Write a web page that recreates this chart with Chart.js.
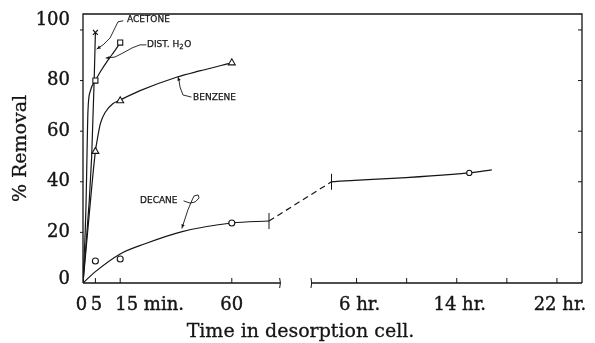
<!DOCTYPE html>
<html>
<head>
<meta charset="utf-8">
<script src="https://cdn.jsdelivr.net/npm/chart.js@4.4.0/dist/chart.umd.min.js"></script>
<style>
  html, body { margin: 0; padding: 0; background: #fff; }
  canvas { display: block; }
</style>
</head>
<body>
<canvas id="removalChart" width="595" height="343"></canvas>
<script>
// axis ticks
const yTicks = [0, 20, 40, 60, 80, 100];
const minuteTicks = [0, 5, 15, 60];
const minuteLabels = ["0", "5", "15 min.", "60"];
const hourTicks = [6, 10, 14, 18, 22];
const hourLabels = ["6 hr.", "", "14 hr.", "", "22 hr."];

// the time axis is broken: minutes up to ~80, then hours from ~2.4 to 24
const MINUTE_END = 79.5;
const HOUR_START = 2.4;
const HOUR_END = 24;
const HOUR_BASE = 80;
const UNITS_PER_HOUR = 5.05;
const Y_MAX = 106.3;

// measured removal (%)
const acetoneMin = [5];
const acetoneVal = [99];
const waterMin = [5, 15];
const waterVal = [80, 95];
const benzeneMin = [5, 15, 60];
const benzeneVal = [52, 72, 87];
const decaneMin = [5, 15, 60];
const decaneVal = [8.7, 9.5, 23.7];
const decaneHr = [15];
const decaneHrVal = [43.5];

// smooth curves through the measurements
const acetoneCurveMin = [0, 3.5, 4.5, 5];
const acetoneCurveVal = [0, 50, 80, 99];
const waterCurveMin = [0, 1.2, 1.6, 2, 3, 5, 7, 10, 13, 15];
const waterCurveVal = [0, 30, 50, 68, 76, 80, 83.5, 88, 92, 95];
const benzeneCurveMin = [0, 2.5, 5, 6, 7, 9, 12, 15, 23, 38, 47, 60];
const benzeneCurveVal = [0, 27, 52, 58, 63, 67.5, 70.8, 72.3, 76, 81.4, 83.8, 87];
const decaneCurveMin = [0, 5, 15, 25, 40, 60, 75];
const decaneCurveVal = [0, 4.5, 11.5, 15.5, 20.3, 23.7, 24.5];
const decaneTailHr = [4, 15, 16.8];
const decaneTailVal = [40, 43.5, 44.7];

const INK = "#151515";

const hourX = (h) => HOUR_BASE + UNITS_PER_HOUR * h;
const minPts = (xs, ys) => xs.map((m, i) => ({ x: m, y: ys[i] }));
const hrPts = (xs, ys) => xs.map((h, i) => ({ x: hourX(h), y: ys[i] }));

const lastMin = decaneCurveMin.length - 1;
const decaneJoin = [
  { x: decaneCurveMin[lastMin], y: decaneCurveVal[lastMin] },
  { x: hourX(decaneTailHr[0]), y: decaneTailVal[0] },
];

// curve labels with leader lines, in chart units (minutes-scale x, %)
const notes = [
  { parts: ["ACETONE"], at: [17.7, 104],
    path: [[16.1, 103.6], [14.1, 103.2], [12.9, 100.8], [10.9, 96.8], [8.1, 94.1], [5.6, 92.5]] },
  { parts: ["DIST. H", "2", "O"], at: [25.8, 94.1],
    path: [[25.4, 94.1], [23, 94.1], [19.8, 92.9], [16.1, 90.9], [12.9, 89.3], [9.3, 88.9]] },
  { parts: ["BENZENE"], at: [44.4, 73.1],
    path: [[43.6, 73.5], [40.3, 74.3], [39.1, 77.5], [38.7, 80.2], [38.3, 81.4]] },
  { parts: ["DECANE"], at: [23, 32.6],
    path: [[40.7, 32.4], [43.1, 31.6], [45.2, 32.0], [46.8, 33.6], [46.4, 34.8], [44.8, 34.4],
           [44.0, 32.8], [42.3, 28.9], [41.1, 25.3], [39.9, 21.7]] },
];

const curve = (data, dash) => ({
  data: data,
  borderColor: INK,
  borderWidth: 1.2,
  borderDash: dash || [],
  pointRadius: 0,
  cubicInterpolationMode: "monotone",
  fill: false,
});

const marks = (data, style, r) => ({
  data: data,
  showLine: false,
  pointStyle: style,
  pointRadius: r,
  pointBackgroundColor: "#fff",
  pointBorderColor: INK,
  pointBorderWidth: 1.1,
});

// filled text with a hairline stroke so the print-style type looks heavier
function inkText(ctx, t, px, py, weight) {
  ctx.fillText(t, px, py);
  ctx.lineWidth = weight;
  ctx.strokeText(t, px, py);
}

const axesAndNotes = {
  id: "axesAndNotes",
  afterDraw(chart) {
    const { ctx, chartArea: a } = chart;
    const x = chart.scales.x;
    const y = chart.scales.y;
    ctx.save();
    ctx.strokeStyle = INK;
    ctx.fillStyle = INK;
    ctx.lineWidth = 1.3;

    // left axis, top and right border
    ctx.beginPath();
    ctx.moveTo(a.left, a.bottom);
    ctx.lineTo(a.left, a.top);
    ctx.lineTo(a.right, a.top);
    ctx.lineTo(a.right, a.bottom);
    ctx.stroke();

    // bottom axis in two pieces with break marks
    const gapL = x.getPixelForValue(MINUTE_END);
    const gapR = x.getPixelForValue(hourX(HOUR_START));
    ctx.beginPath();
    ctx.moveTo(a.left, a.bottom);
    ctx.lineTo(gapL, a.bottom);
    ctx.moveTo(gapR, a.bottom);
    ctx.lineTo(a.right, a.bottom);
    ctx.stroke();
    ctx.lineWidth = 1;
    [gapL, gapR].forEach((gx) => {
      ctx.beginPath();
      ctx.moveTo(gx - 0.5, a.bottom - 5);
      ctx.quadraticCurveTo(gx + 1, a.bottom, gx - 0.5, a.bottom + 5);
      ctx.stroke();
    });

    // y ticks
    yTicks.forEach((v) => {
      const py = y.getPixelForValue(v);
      if (v > 0) {
        ctx.beginPath();
        ctx.moveTo(a.left - 3, py);
        ctx.lineTo(a.left, py);
        ctx.moveTo(a.right - 4, py);
        ctx.lineTo(a.right, py);
        ctx.stroke();
      }
    });

    // x ticks
    const xTickPx = minuteTicks.filter((m) => m > 0).map((m) => x.getPixelForValue(m))
      .concat(hourTicks.map((h) => x.getPixelForValue(hourX(h))));
    xTickPx.forEach((px) => {
      ctx.beginPath();
      ctx.moveTo(px, a.bottom);
      ctx.lineTo(px, a.bottom - 5);
      ctx.stroke();
    });

    // tick labels
    ctx.font = "18px 'DejaVu Serif'";
    ctx.textBaseline = "middle";
    ctx.textAlign = "right";
    yTicks.forEach((v, i) => {
      let py = y.getPixelForValue(v);
      if (i === yTicks.length - 1) py = a.top + 6;
      if (i === 0) py -= 4;
      inkText(ctx, String(v), a.left - 13, py, 0.4);
    });

    const labelY = a.bottom + 22;
    minuteTicks.forEach((m, i) => {
      const px = x.getPixelForValue(m);
      if (minuteLabels[i].indexOf(" ") > 0) {
        ctx.textAlign = "left";
        inkText(ctx, minuteLabels[i], px - 5, labelY, 0.4);
      } else {
        ctx.textAlign = "center";
        // keep "0" and "5" apart at the crowded start of the axis
        inkText(ctx, minuteLabels[i], px + (m === 0 ? -1.5 : m === 5 ? 1 : 0), labelY, 0.4);
      }
    });
    ctx.textAlign = "center";
    hourTicks.forEach((h, i) => {
      if (!hourLabels[i]) return;
      inkText(ctx, hourLabels[i], x.getPixelForValue(hourX(h)) + 3, labelY, 0.4);
    });

    // axis titles
    ctx.font = "19px 'DejaVu Serif'";
    inkText(ctx, "Time in desorption cell.", (a.left + a.right) / 2 - 32, a.bottom + 49, 0.3);
    ctx.save();
    ctx.translate(21, (a.top + a.bottom) / 2);
    ctx.rotate(-Math.PI / 2);
    inkText(ctx, "% Removal", 0, 0, 0.3);
    ctx.restore();

    // curve labels
    ctx.lineJoin = "round";
    ctx.lineCap = "round";
    notes.forEach((n) => {
      const pts = n.path.map((p) => [x.getPixelForValue(p[0]), y.getPixelForValue(p[1])]);
      ctx.lineWidth = 0.9;
      ctx.beginPath();
      pts.forEach((p, i) => (i ? ctx.lineTo(p[0], p[1]) : ctx.moveTo(p[0], p[1])));
      ctx.stroke();
      // small arrow head on the curve end
      const e = pts[pts.length - 1];
      const b = pts[pts.length - 2];
      const ang = Math.atan2(e[1] - b[1], e[0] - b[0]);
      ctx.beginPath();
      ctx.moveTo(e[0], e[1]);
      ctx.lineTo(e[0] - 4 * Math.cos(ang - 0.45), e[1] - 4 * Math.sin(ang - 0.45));
      ctx.lineTo(e[0] - 4 * Math.cos(ang + 0.45), e[1] - 4 * Math.sin(ang + 0.45));
      ctx.closePath();
      ctx.fill();

      let tx = x.getPixelForValue(n.at[0]);
      const ty = y.getPixelForValue(n.at[1]);
      ctx.textAlign = "left";
      n.parts.forEach((t, i) => {
        const sub = n.parts.length > 1 && i === 1;
        ctx.font = sub ? "7px 'DejaVu Sans'" : "9px 'DejaVu Sans'";
        inkText(ctx, t, tx, ty + (sub ? 2.5 : 0), 0.25);
        tx += ctx.measureText(t).width + (sub ? 0.5 : 0);
      });
    });
    ctx.restore();
  },
};

new Chart(document.getElementById("removalChart"), {
  type: "line",
  data: {
    datasets: [
      marks(minPts(acetoneMin, acetoneVal), "crossRot", 3.5),
      marks(minPts(waterMin, waterVal), "rect", 3.6),
      marks(minPts(benzeneMin, benzeneVal), "triangle", 4),
      marks(minPts(decaneMin, decaneVal), "circle", 3),
      marks(hrPts(decaneHr, decaneHrVal), "circle", 2.6),
      {
        // break marks where the decane curve is interrupted
        data: decaneJoin,
        showLine: false,
        pointStyle: "line",
        rotation: 90,
        pointRadius: 8,
        pointBorderColor: INK,
        pointBorderWidth: 1,
      },
      curve(minPts(acetoneCurveMin, acetoneCurveVal)),
      curve(minPts(waterCurveMin, waterCurveVal)),
      curve(minPts(benzeneCurveMin, benzeneCurveVal)),
      curve(minPts(decaneCurveMin, decaneCurveVal)),
      curve(decaneJoin, [6, 4]),
      curve(hrPts(decaneTailHr, decaneTailVal)),
    ],
  },
  options: {
    responsive: false,
    animation: false,
    layout: { padding: { left: 83, right: 13, top: 14, bottom: 60 } },
    plugins: { legend: { display: false }, tooltip: { enabled: false }, title: { display: false } },
    scales: {
      x: { type: "linear", display: false, min: 0, max: hourX(HOUR_END) },
      y: { type: "linear", display: false, min: 0, max: Y_MAX },
    },
  },
  plugins: [axesAndNotes],
});
</script>
</body>
</html>
